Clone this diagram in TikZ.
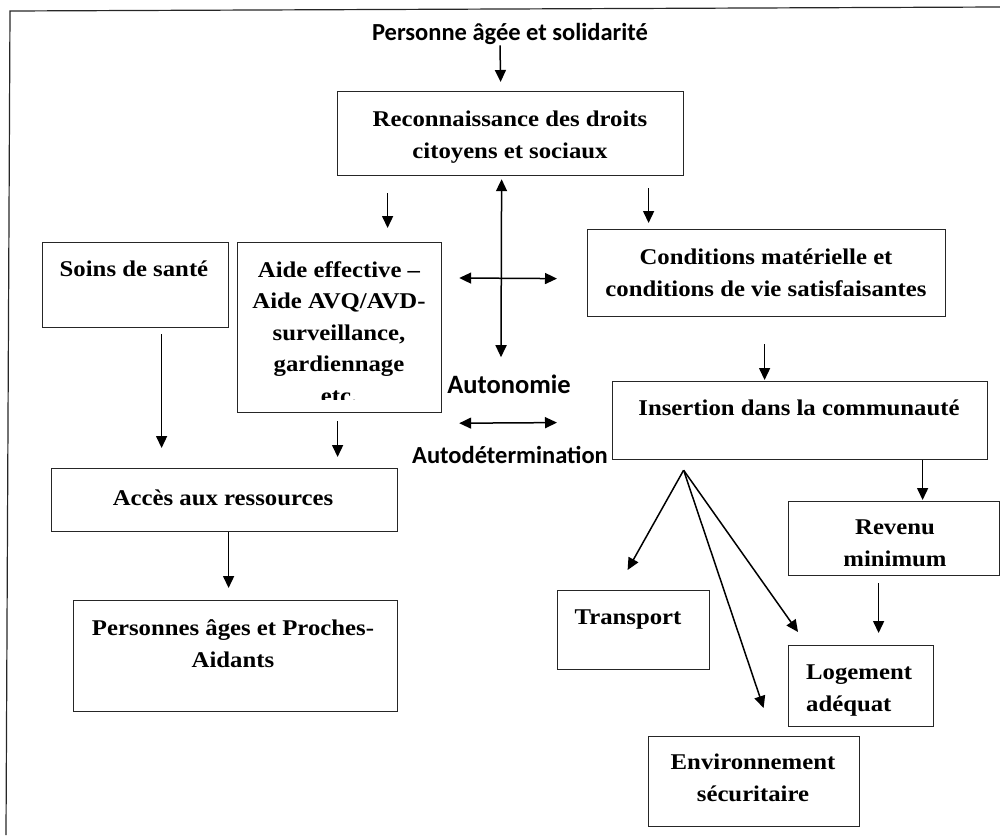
\documentclass[tikz,border=0pt]{standalone}
\usepackage{fontspec}
\newfontfamily\boxfont{Liberation Serif}[FakeStretch=1.1]
\newfontfamily\labfont{Carlito}
\usetikzlibrary{calc,arrows.meta}
\tikzset{
  box/.style={draw=black!85, line width=1.2pt, rectangle, inner sep=0pt, anchor=north west},
  btxt/.style={font=\boxfont\bfseries\fontsize{22.5}{31.5}\selectfont, align=center, inner sep=0pt, anchor=base},
  ltxt/.style={font=\labfont\bfseries\fontsize{24.5}{30}\selectfont, inner sep=0pt, anchor=base},
  tip/.tip={Triangle[length=12pt,width=11pt]},
  arr/.style={line width=1.5pt, -tip},
  darr/.style={line width=1.5pt, tip-tip},
}
\begin{document}
\begin{tikzpicture}[x=1pt,y=-1pt]
\useasboundingbox (0,0) rectangle (1000,835);
% outer frame (only the top and left sides lie inside the page)
\draw[line width=1.2pt, black!85] (6,835) -- (10,11) -- (1000,7);

% boxes
\node[box, minimum width=346pt, minimum height=84pt]  (reco)  at (337,91)  {};
\node[box, minimum width=186pt, minimum height=85pt]  (soins) at (42,242)  {};
\node[box, minimum width=204pt, minimum height=170pt] (aide)  at (237,242) {};
\node[box, minimum width=346pt, minimum height=63pt]  (acces) at (51,468)  {};
\node[box, minimum width=324pt, minimum height=111pt] (pers)  at (73,600)  {};
\node[box, minimum width=358pt, minimum height=87pt]  (cond)  at (587,229) {};
\node[box, minimum width=375pt, minimum height=78pt]  (ins)   at (612,381) {};
\node[box, minimum width=211pt, minimum height=74pt]  (rev)   at (788,501) {};
\node[box, minimum width=145pt, minimum height=81pt]  (loge)  at (788,645) {};
\node[box, minimum width=152pt, minimum height=79pt]  (trans) at (557,590) {};
\node[box, minimum width=211pt, minimum height=90pt]  (env)   at (648,736) {};

% texts (multi-line texts are placed by the baseline of their last line)
\node[ltxt] (title) at (510,40) {Personne âgée et solidarité};
\node[btxt] (recoT)  at (510,158) {Reconnaissance des droits\\citoyens et sociaux};
\node[btxt] (soinsT) at (134,276) {Soins de santé};
\node[btxt] (aideT)  at (339,403) {Aide effective –\\Aide AVQ/AVD-\\surveillance,\\gardiennage\\etc.};
\node[ltxt, font=\labfont\bfseries\fontsize{26.5}{32}\selectfont] (autonomie) at (509,393) {Autonomie};
\node[ltxt] (autodet)   at (510,463) {Autodétermination};
\node[btxt] (condT)  at (766,296) {Conditions matérielle et\\conditions de vie satisfaisantes};
\node[btxt] (insT)   at (799,415) {Insertion dans la communauté};
\node[btxt] (accesT) at (223,505) {Accès aux ressources};
\node[btxt] (persT)  at (233,667) {Personnes âges et Proches-\\Aidants};
\node[btxt] (revT)   at (895,566) {Revenu\\minimum};
\node[btxt, align=left, anchor=base west] (logeT) at (806,711) {Logement\\adéquat};
\node[btxt] (transT) at (628,624) {Transport};
\node[btxt] (envT)   at (753,801) {Environnement\\sécuritaire};

% the last line of the help box is cut by the box's inner margin
\fill[white] (238.5,400) rectangle (439.5,411);

% connectors
\draw[arr]  ($(title.south)+(-10,1)$) -- ($(reco.north)+(-10,-9)$);
\draw[arr]  ($(reco.south)+(-123,17)$) -- ($(aide.north)+(48,-14)$);
\draw[arr]  ($(reco.south)+(138,12)$) -- ($(cond.north)+(-118,-6)$);
\draw[darr] ($(reco.south)+(-9,3)$) -- ($(autonomie.north)+(-8,-17)$);
\draw[darr] ($(aide.north east)+(17,36)$) -- ($(cond.west)+(-30,5.5)$);
\draw[darr] ($(aide.south east)+(17,10)$) -- ($(ins.west)+(-55,2)$);
\draw[arr]  ($(soins.south)+(26,6)$) -- ($(acces.north)+(-63,-20)$);
\draw[arr]  ($(aide.south)+(-2,8)$) -- ($(acces.north)+(113,-11)$);
\draw[arr]  ($(acces.south)+(4,0)$) -- ($(pers.north)+(-7,-12)$);
\draw[arr]  ($(cond.south)+(-2,27)$) -- ($(ins.north)+(-35.5,-1)$);
\draw[arr]  ($(ins.south)+(122.5,0)$) -- ($(rev.north)+(28.5,-1)$);
\draw[arr]  ($(rev.south)+(-15.5,7)$) -- ($(loge.north)+(17.5,-12)$);
\coordinate (fan) at ($(ins.south)+(-116.5,10)$);
\draw[arr]  (fan) -- ($(trans.north)+(-6,-20)$);
\draw[arr]  (fan) -- ($(env.north)+(9.5,-28)$);
\draw[arr]  (fan) -- ($(loge.north west)+(10,-13)$);
\end{tikzpicture}
\end{document}
